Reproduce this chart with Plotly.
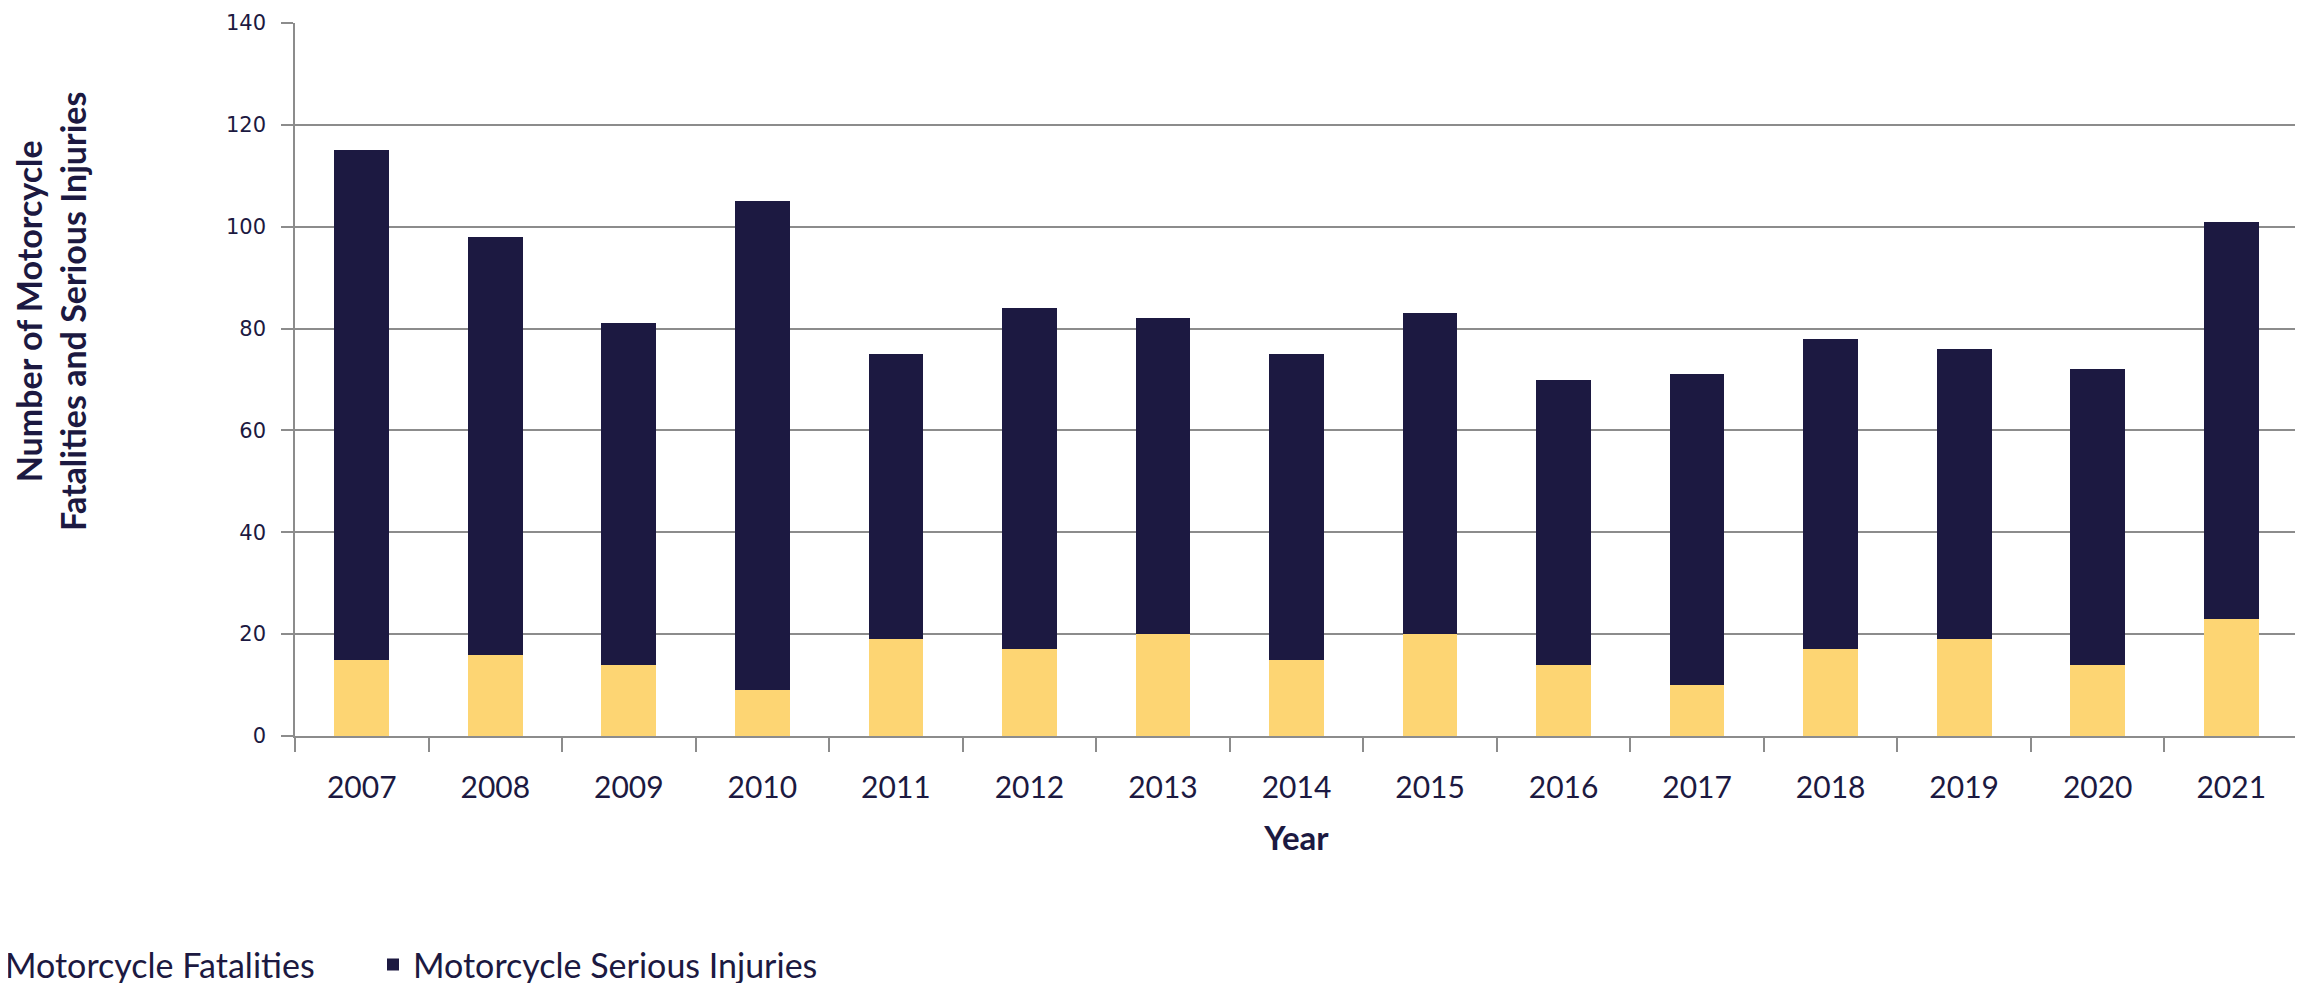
import plotly.graph_objects as go

# Data
years = ["2007", "2008", "2009", "2010", "2011", "2012", "2013", "2014",
         "2015", "2016", "2017", "2018", "2019", "2020", "2021"]
fatalities = [15, 16, 14, 9, 19, 17, 20, 15, 20, 14, 10, 17, 19, 14, 23]
serious_injuries = [100, 82, 67, 96, 56, 67, 62, 60, 63, 56, 61, 61, 57, 58, 78]
y_ticks = [0, 20, 40, 60, 80, 100, 120, 140]

NAVY = "#1C1941"
YELLOW = "#FDD573"
GRID = "#8C8C8C"
FONT = "Lato, Noto Sans, sans-serif"

# the page body adds an 8px offset, so the figure is sized to fit the window
W, H = 2295, 975
L, T, R, B = 287, 15, 5, 247
PW = W - L - R
PH = H - T - B

fig = go.Figure()
fig.add_trace(go.Bar(x=years, y=fatalities, name="Motorcycle Fatalities",
                     marker=dict(color=YELLOW, line=dict(width=0)),
                     legend="legend", showlegend=True))
fig.add_trace(go.Bar(x=years, y=serious_injuries, name="Motorcycle Serious Injuries",
                     marker=dict(color=NAVY, line=dict(width=0)),
                     legend="legend2", showlegend=True))

legend_style = dict(
    orientation="h",
    y=-0.321, yanchor="middle",
    xanchor="left",
    font=dict(size=34, color=NAVY),
    itemwidth=30,
    bgcolor="rgba(0,0,0,0)",
)

fig.update_layout(
    barmode="stack",
    bargap=0.59,
    showlegend=True,
    width=W,
    height=H,
    margin=dict(l=L, r=R, t=T, b=B, autoexpand=False),
    plot_bgcolor="white",
    paper_bgcolor="white",
    font=dict(family=FONT, color=NAVY, size=30),
    legend=dict(x=(-43 - L) / PW, visible=True, **legend_style),
    legend2=dict(x=(365 - L) / PW, visible=True, **legend_style),
    xaxis=dict(
        type="category",
        automargin=False,
        title=dict(text="<b>Year</b>", font=dict(size=33, color=NAVY), standoff=24),
        tickson="boundaries",
        ticks="outside",
        ticklen=14,
        tickcolor=GRID,
        tickwidth=1.5,
        showline=True,
        linecolor=GRID,
        linewidth=1.5,
        showgrid=False,
        tickfont=dict(size=30, color=NAVY),
        ticklabelstandoff=24,
    ),
    yaxis=dict(
        range=[0, 140],
        automargin=False,
        tickvals=y_ticks,
        ticks="outside",
        ticklen=12,
        tickcolor=GRID,
        tickwidth=1.5,
        showline=True,
        linecolor=GRID,
        linewidth=1.5,
        showgrid=True,
        gridcolor=GRID,
        gridwidth=1.5,
        zeroline=False,
        tickfont=dict(family="DejaVu Sans, sans-serif", size=21, color=NAVY),
        ticklabelstandoff=11,
        ticklabeloverflow="allow",
    ),
    annotations=[
        dict(
            text="<b>Number of Motorcycle<br>Fatalities and Serious Injuries</b>",
            textangle=-90,
            xref="paper", yref="paper",
            x=(42 - L) / PW, y=(728 - 304) / PH,
            xanchor="center", yanchor="middle",
            showarrow=False,
            font=dict(family=FONT, size=34, color=NAVY),
        )
    ],
)

fig.write_html("out.html")
